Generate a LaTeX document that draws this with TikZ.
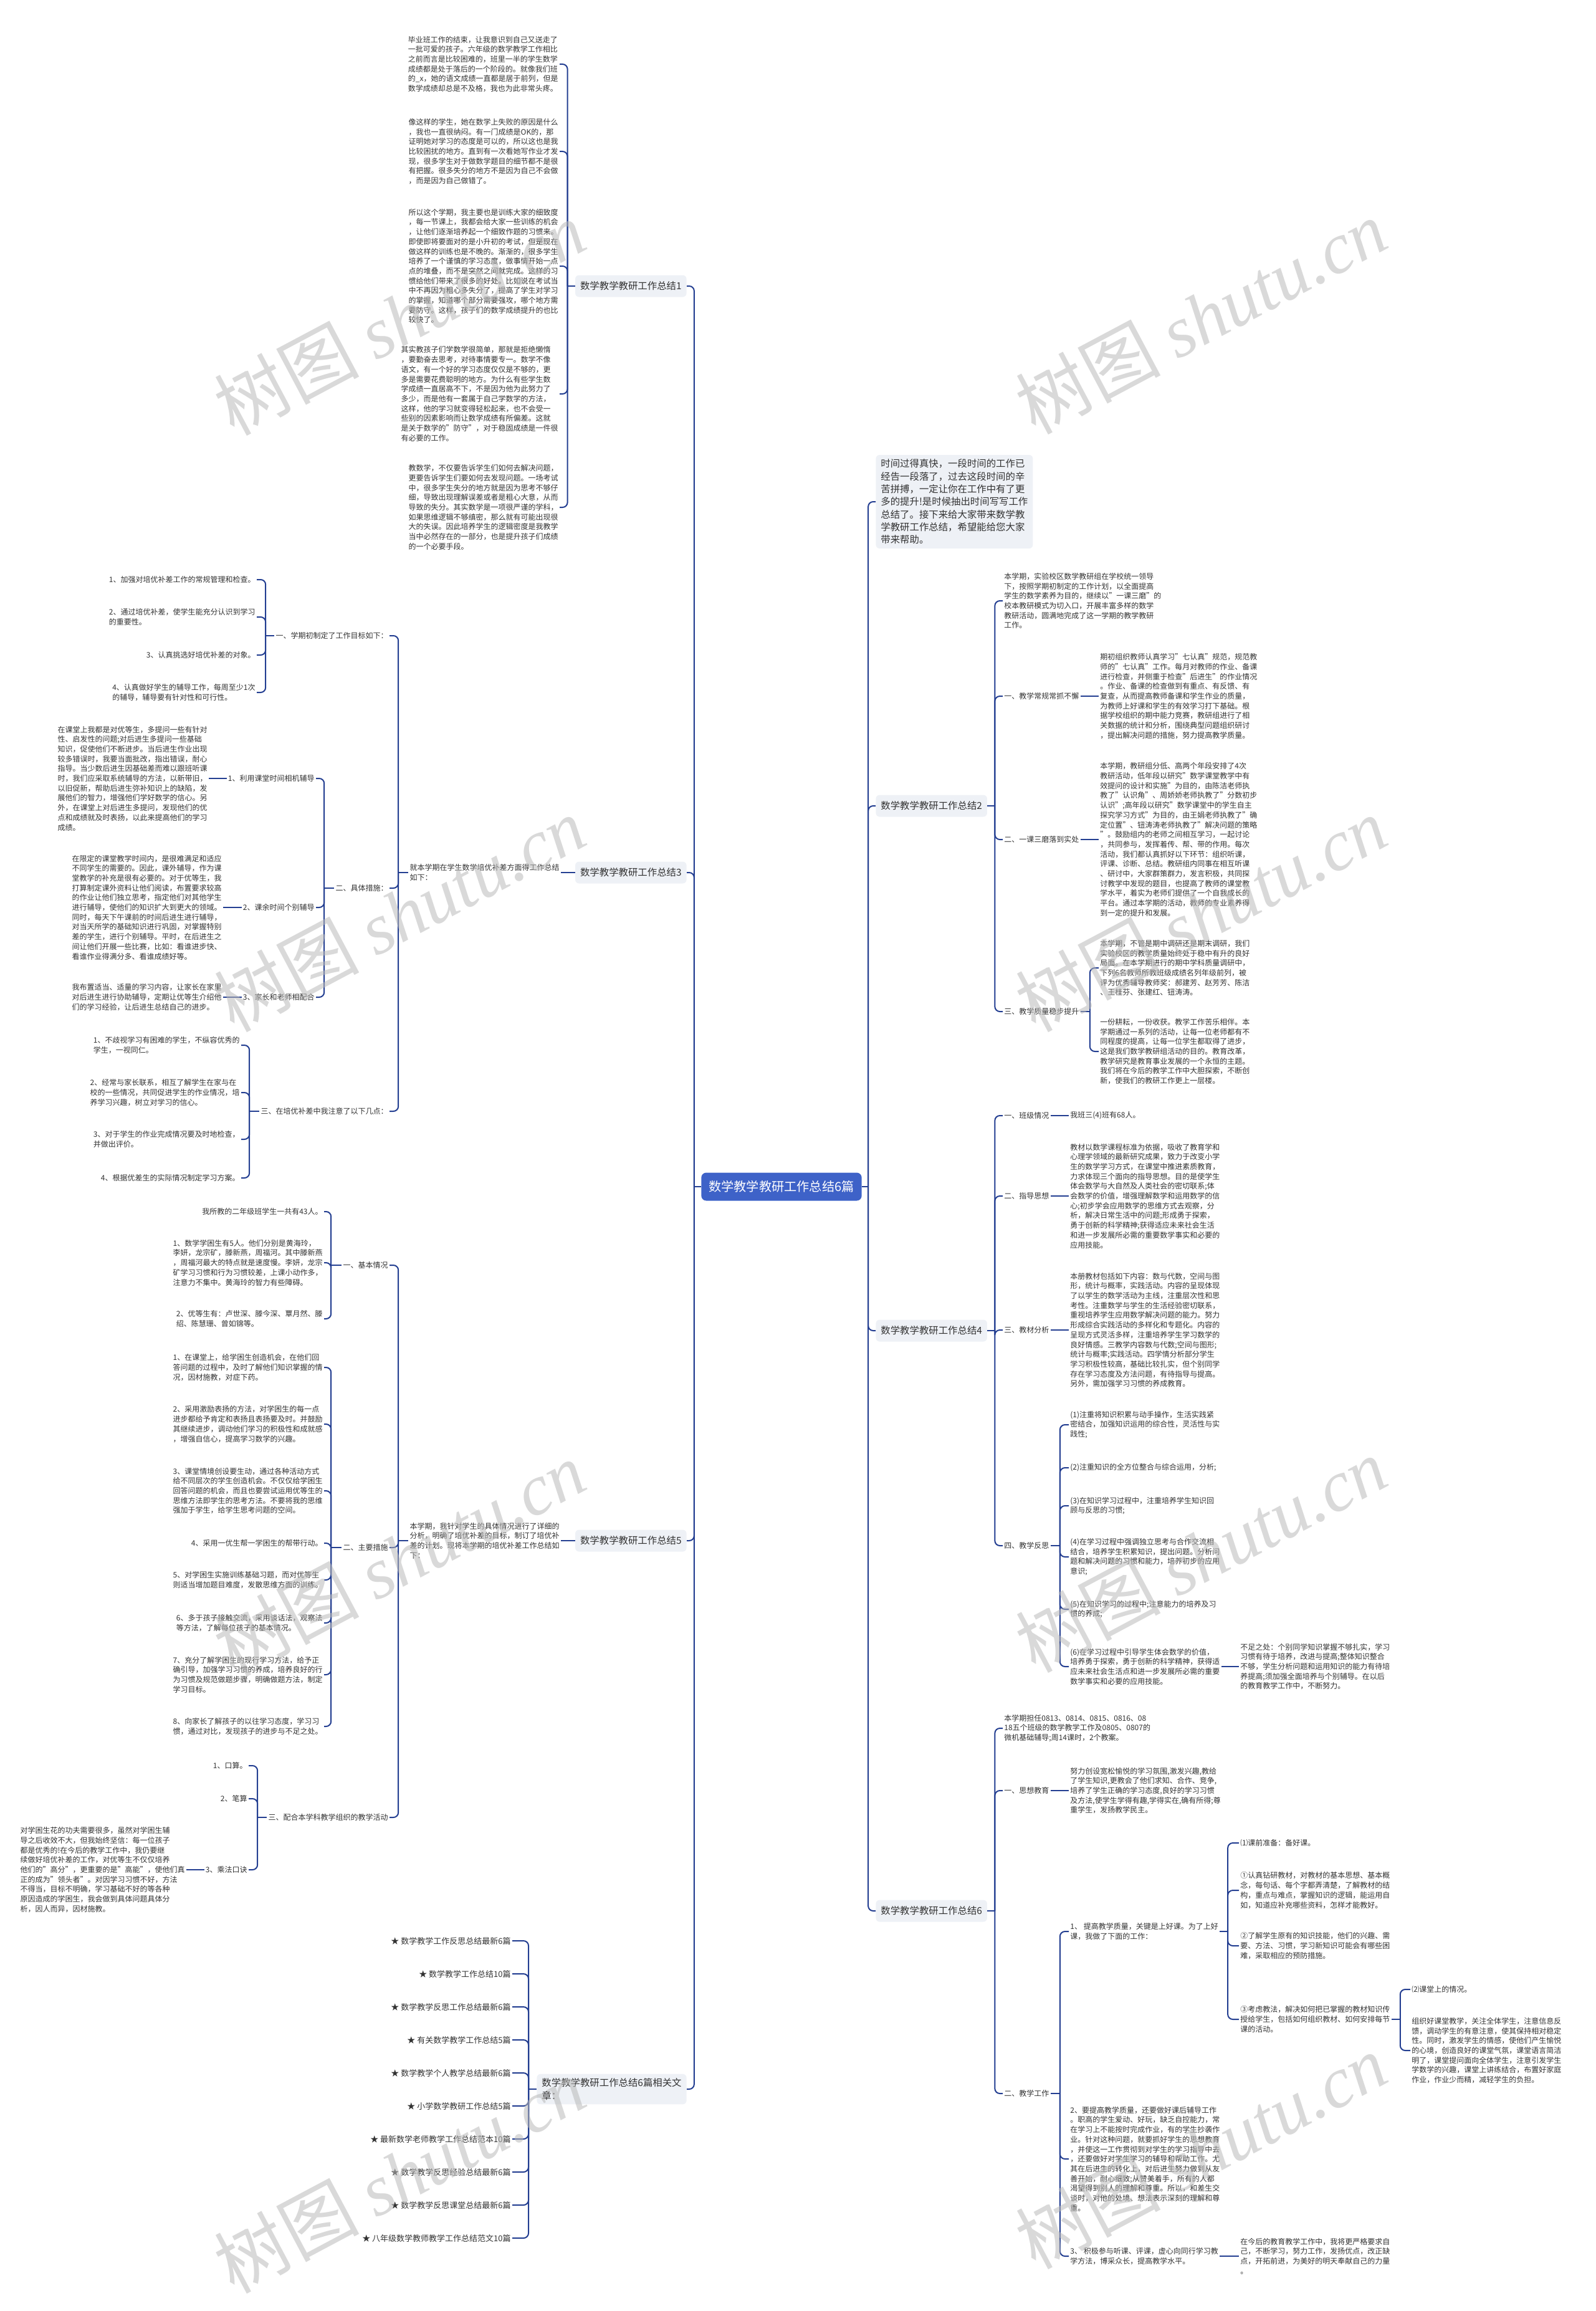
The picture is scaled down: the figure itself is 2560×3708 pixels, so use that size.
\documentclass[tikz,border=0pt]{standalone}
\usepackage{fontspec}
\setmainfont{Noto Sans CJK SC}
\newfontfamily\wmlatin{Liberation Serif}
\usepackage{xcolor}
\usepackage{tikz}
\usetikzlibrary{calc}
\definecolor{mmline}{RGB}{35,62,145}
\definecolor{mmroot}{RGB}{62,98,200}
\definecolor{mmtopic}{RGB}{238,241,246}
\definecolor{mmtext}{RGB}{50,50,50}
\definecolor{mmwm}{RGB}{185,185,185}
\tikzset{
  link/.style={draw=mmline, line width=1pt, rounded corners=4pt},
  rootbox/.style={
    fill=mmroot, text=white, rounded corners=4pt,
    font=\fontsize{10.1pt}{12pt}\selectfont, inner xsep=6pt, minimum height=22.5pt
  },
  topic/.style={
    fill=mmtopic, text=mmtext, rounded corners=3pt, align=left,
    font=\fontsize{7.7pt}{10.15pt}\selectfont,
    inner xsep=4pt, inner ysep=3.5pt, minimum height=17.5pt
  },
  leaf/.style={text=mmtext, font=\fontsize{6pt}{7.85pt}\selectfont, align=left, inner sep=1pt},
  lleaf/.style={leaf, anchor=east},
  rleaf/.style={leaf, anchor=west},
  starleaf/.style={font=\fontsize{6.5pt}{8pt}\selectfont},
  wm/.style={text=mmwm, opacity=0.55, font=\fontsize{58pt}{60pt}\selectfont, rotate=28}
}

\begin{document}
\begin{tikzpicture}[x=0.5pt,y=-0.5pt]
  \useasboundingbox (0,0) rectangle (2560,3708);

  % root and main topics
  \node[rootbox] (root) at (1254,1904) {数学教学教研工作总结6篇};
  \node[topic, anchor=east] (sum1) at (1102,459) {数学教学教研工作总结1};
  \node[topic, anchor=east] (sum3) at (1102,1400) {数学教学教研工作总结3};
  \node[topic, anchor=east] (sum5) at (1102,2472) {数学教学教研工作总结5};
  \node[topic, anchor=east] (related) at (1102,3352) {数学教学教研工作总结6篇相关文\\章：};
  \node[topic, anchor=west] (intro) at (1405,805) {时间过得真快，一段时间的工作已\\经告一段落了，过去这段时间的辛\\苦拼搏，一定让你在工作中有了更\\多的提升!是时候抽出时间写写工作\\总结了。接下来给大家带来数学教\\学教研工作总结，希望能给您大家\\带来帮助。};
  \node[topic, anchor=west] (sum2) at (1405,1293) {数学教学教研工作总结2};
  \node[topic, anchor=west] (sum4) at (1405,2135) {数学教学教研工作总结4};
  \node[topic, anchor=west] (sum6) at (1405,3066) {数学教学教研工作总结6};

  \draw[link] (root.west) -- ++(-11,0) coordinate (rootL);
  \foreach \n in {sum1,sum3,sum5,related} \draw[link] (rootL) |- (\n.east);
  \draw[link] (root.east) -- ++(10,0) coordinate (rootR);
  \foreach \n in {intro,sum2,sum4,sum6} \draw[link] (rootR) |- (\n.west);

  % summary 1
  \node[lleaf] (s1p1) at (898,103) {毕业班工作的结束，让我意识到自己又送走了\\一批可爱的孩子。六年级的数学教学工作相比\\之前而言是比较困难的，班里一半的学生数学\\成绩都是处于落后的一个阶段的。就像我们班\\的\_x，她的语文成绩一直都是居于前列，但是\\数学成绩却总是不及格，我也为此非常头疼。};
  \node[lleaf] (s1p2) at (898,243) {像这样的学生，她在数学上失败的原因是什么\\，我也一直很纳闷。有一门成绩是OK的，那\\证明她对学习的态度是可以的，所以这也是我\\比较困扰的地方。直到有一次看她写作业才发\\现，很多学生对于做数学题目的细节都不是很\\有把握。很多失分的地方不是因为自己不会做\\，而是因为自己做错了。};
  \node[lleaf] (s1p3) at (898,427) {所以这个学期，我主要也是训练大家的细致度\\，每一节课上，我都会给大家一些训练的机会\\，让他们逐渐培养起一个细致作题的习惯来。\\即使即将要面对的是小升初的考试，但是现在\\做这样的训练也是不晚的。渐渐的，很多学生\\培养了一个谨慎的学习态度，做事情开始一点\\点的堆叠，而不是突然之间就完成。这样的习\\惯给他们带来了很多的好处。比如说在考试当\\中不再因为粗心多失分了，提高了学生对学习\\的掌握，知道哪个部分需要强攻，哪个地方需\\要防守。这样，孩子们的数学成绩提升的也比\\较快了。};
  \node[lleaf] (s1p4) at (898,632) {其实教孩子们学数学很简单，那就是拒绝懒惰\\，要勤奋去思考，对待事情要专一。数学不像\\语文，有一个好的学习态度仅仅是不够的，更\\多是需要花费聪明的地方。为什么有些学生数\\学成绩一直居高不下，不是因为他为此努力了\\多少，而是他有一套属于自己学数学的方法，\\这样，他的学习就变得轻松起来，也不会受一\\些别的因素影响而让数学成绩有所偏差。这就\\是关于数学的"防守"，对于稳固成绩是一件很\\有必要的工作。};
  \node[lleaf] (s1p5) at (898,814) {教数学，不仅要告诉学生们如何去解决问题，\\更要告诉学生们要如何去发现问题。一场考试\\中，很多学生失分的地方就是因为思考不够仔\\细，导致出现理解误差或者是粗心大意，从而\\导致的失分。其实数学是一项很严谨的学科，\\如果思维逻辑不够缜密，那么就有可能出现很\\大的失误。因此培养学生的逻辑密度是我教学\\当中必然存在的一部分，也是提升孩子们成绩\\的一个必要手段。};
  \draw[link] (sum1.west) -- ++(-12,0) coordinate (sum1j);
  \foreach \n in {s1p1,s1p2,s1p3,s1p4,s1p5} \draw[link] (sum1j) |- (\n.east);

  % summary 3
  \node[lleaf] (s3i) at (900,1400) {就本学期在学生数学培优补差方面得工作总结\\如下：};
  \draw[link] (sum3.west) -- (s3i.east);
  \node[lleaf] (s3a) at (625,1020) {一、学期初制定了工作目标如下：};
  \node[lleaf] (s3b) at (625,1425) {二、具体措施：};
  \node[lleaf] (s3c) at (625,1783) {三、在培优补差中我注意了以下几点：};
  \draw[link] (s3i.west) -- ++(-16,0) coordinate (s3ij);
  \foreach \n in {s3a,s3b,s3c} \draw[link] (s3ij) |- (\n.east);

  \node[lleaf] (s3a1) at (412,930) {1、加强对培优补差工作的常规管理和检查。};
  \node[lleaf] (s3a2) at (412,990) {2、通过培优补差，使学生能充分认识到学习\\的重要性。};
  \node[lleaf] (s3a3) at (412,1051) {3、认真挑选好培优补差的对象。};
  \node[lleaf] (s3a4) at (412,1111) {4、认真做好学生的辅导工作，每周至少1次\\的辅导，辅导要有针对性和可行性。};
  \draw[link] (s3a.west) -- ++(-14,0) coordinate (s3aj);
  \foreach \n in {s3a1,s3a2,s3a3,s3a4} \draw[link] (s3aj) |- (\n.east);

  \node[lleaf] (s3b1) at (507,1249) {1、利用课堂时间相机辅导};
  \node[lleaf] (s3b2) at (507,1456) {2、课余时间个别辅导};
  \node[lleaf] (s3b3) at (507,1600) {3、家长和老师相配合};
  \draw[link] (s3b.west) -- ++(-16,0) coordinate (s3bj);
  \foreach \n in {s3b1,s3b2,s3b3} \draw[link] (s3bj) |- (\n.east);
  \node[lleaf] (s3b1t) at (335,1249) {在课堂上我都是对优等生，多提问一些有针对\\性、启发性的问题;对后进生多提问一些基础\\知识，促使他们不断进步。当后进生作业出现\\较多错误时，我要当面批改，指出错误，耐心\\指导。当少数后进生因基础差而难以跟班听课\\时，我们应采取系统辅导的方法，以新带旧，\\以旧促新，帮助后进生弥补知识上的缺陷，发\\展他们的智力，增强他们学好数学的信心。另\\外，在课堂上对后进生多提问，发现他们的优\\点和成绩就及时表扬，以此来提高他们的学习\\成绩。};
  \node[lleaf] (s3b2t) at (358,1456) {在限定的课堂教学时间内，是很难满足和适应\\不同学生的需要的。因此，课外辅导，作为课\\堂教学的补充是很有必要的。对于优等生，我\\打算制定课外资料让他们阅读，布置要求较高\\的作业让他们独立思考，指定他们对其他学生\\进行辅导，使他们的知识扩大到更大的领域。\\同时，每天下午课前的时间后进生进行辅导，\\对当天所学的基础知识进行巩固，对掌握特别\\差的学生，进行个别辅导。平时，在后进生之\\间让他们开展一些比赛，比如：看谁进步快、\\看谁作业得满分多、看谁成绩好等。};
  \node[lleaf] (s3b3t) at (358,1600) {我布置适当、适量的学习内容，让家长在家里\\对后进生进行协助辅导，定期让优等生介绍他\\们的学习经验，让后进生总结自己的进步。};
  \draw[link] (s3b1.west) -- (s3b1t.east);
  \draw[link] (s3b2.west) -- (s3b2t.east);
  \draw[link] (s3b3.west) -- (s3b3t.east);

  \node[lleaf] (s3c1) at (387,1677) {1、不歧视学习有困难的学生，不纵容优秀的\\学生，一视同仁。};
  \node[lleaf] (s3c2) at (387,1753) {2、经常与家长联系，相互了解学生在家与在\\校的一些情况，共同促进学生的作业情况，培\\养学习兴趣，树立对学习的信心。};
  \node[lleaf] (s3c3) at (387,1828) {3、对于学生的作业完成情况要及时地检查，\\并做出评价。};
  \node[lleaf] (s3c4) at (387,1890) {4、根据优差生的实际情况制定学习方案。};
  \draw[link] (s3c.west) -- ++(-16,0) coordinate (s3cj);
  \foreach \n in {s3c1,s3c2,s3c3,s3c4} \draw[link] (s3cj) |- (\n.east);

  % summary 5
  \node[lleaf] (s5i) at (900,2472) {本学期，我针对学生的具体情况进行了详细的\\分析，明确了培优补差的目标，制订了培优补\\差的计划。现将本学期的培优补差工作总结如\\下：};
  \draw[link] (sum5.west) -- (s5i.east);
  \node[lleaf] (s5a) at (625,2030) {一、基本情况};
  \node[lleaf] (s5b) at (625,2483) {二、主要措施};
  \node[lleaf] (s5c) at (625,2916) {三、配合本学科教学组织的教学活动};
  \draw[link] (s5i.west) -- ++(-16,0) coordinate (s5ij);
  \foreach \n in {s5a,s5b,s5c} \draw[link] (s5ij) |- (\n.east);

  \node[lleaf] (s5a1) at (520,1944) {我所教的二年级班学生一共有43人。};
  \node[lleaf] (s5a2) at (520,2026) {1、数学学困生有5人。他们分别是黄海玲，\\李妍，龙宗矿，滕新燕，周福河。其中滕新燕\\，周福河最大的特点就是速度慢。李妍，龙宗\\矿学习习惯和行为习惯较差，上课小动作多，\\注意力不集中。黄海玲的智力有些障碍。};
  \node[lleaf] (s5a3) at (520,2116) {2、优等生有：卢世深、滕今深、覃月然、滕\\绍、陈慧珊、曾如锦等。};
  \draw[link] (s5a.west) -- ++(-17,0) coordinate (s5aj);
  \foreach \n in {s5a1,s5a2,s5a3} \draw[link] (s5aj) |- (\n.east);

  \node[lleaf] (s5b1) at (520,2194) {1、在课堂上，给学困生创造机会，在他们回\\答问题的过程中，及时了解他们知识掌握的情\\况，因材施教，对症下药。};
  \node[lleaf] (s5b2) at (520,2285) {2、采用激励表扬的方法，对学困生的每一点\\进步都给予肯定和表扬且表扬要及时。并鼓励\\其继续进步，调动他们学习的积极性和成就感\\，增强自信心，提高学习数学的兴趣。};
  \node[lleaf] (s5b3) at (520,2392) {3、课堂情境创设要生动，通过各种活动方式\\给不同层次的学生创造机会。不仅仅给学困生\\回答问题的机会，而且也要尝试运用优等生的\\思维方法即学生的思考方法。不要将我的思维\\强加于学生，给学生思考问题的空间。};
  \node[lleaf] (s5b4) at (520,2476) {4、采用一优生帮一学困生的帮带行动。};
  \node[lleaf] (s5b5) at (520,2535) {5、对学困生实施训练基础习题，而对优等生\\则适当增加题目难度，发散思维方面的训练。};
  \node[lleaf] (s5b6) at (520,2604) {6、多于孩子接触交流，采用谈话法，观察法\\等方法，了解每位孩子的基本情况。};
  \node[lleaf] (s5b7) at (520,2687) {7、充分了解学困生的现行学习方法，给予正\\确引导，加强学习习惯的养成，培养良好的行\\为习惯及规范做题步骤，明确做题方法，制定\\学习目标。};
  \node[lleaf] (s5b8) at (520,2770) {8、向家长了解孩子的以往学习态度，学习习\\惯，通过对比，发现孩子的进步与不足之处。};
  \draw[link] (s5b.west) -- ++(-17,0) coordinate (s5bj);
  \foreach \n in {s5b1,s5b2,s5b3,s5b4,s5b5,s5b6,s5b7,s5b8} \draw[link] (s5bj) |- (\n.east);

  \node[lleaf] (s5c1) at (399,2833) {1、口算。};
  \node[lleaf] (s5c2) at (399,2886) {2、笔算};
  \node[lleaf] (s5c3) at (399,3000) {3、乘法口诀};
  \draw[link] (s5c.west) -- ++(-15,0) coordinate (s5cj);
  \foreach \n in {s5c1,s5c2,s5c3} \draw[link] (s5cj) |- (\n.east);
  \node[lleaf] (s5c3t) at (299,3000) {对学困生花的功夫需要很多，虽然对学困生辅\\导之后收效不大，但我始终坚信：每一位孩子\\都是优秀的!在今后的教学工作中，我仍要继\\续做好培优补差的工作，对优等生不仅仅培养\\他们的"高分"，更重要的是"高能"，使他们真\\正的成为"领头者"。对因学习习惯不好，方法\\不得当，目标不明确，学习基础不好的等各种\\原因造成的学困生，我会做到具体问题具体分\\析，因人而异，因材施教。};
  \draw[link] (s5c3.west) -- (s5c3t.east);

  % related articles
  \foreach \t [count=\i from 0] in {数学教学工作反思总结最新6篇, 数学教学工作总结10篇, 数学教学反思工作总结最新6篇, 有关数学教学工作总结5篇, 数学教学个人教学总结最新6篇, 小学数学教研工作总结5篇, 最新数学老师教学工作总结范本10篇, 数学教学反思经验总结最新6篇, 数学教学反思课堂总结最新6篇, 八年级数学教师教学工作总结范文10篇}
    \node[lleaf, starleaf] (rel\i) at (822,{3114+53*\i}) {★ \t};
  \draw[link] (related.west) -- ++(-13,0) coordinate (relj);
  \foreach \i in {0,...,9} \draw[link] (relj) |- (rel\i.east);

  % summary 2
  \node[rleaf] (s2p) at (1609,964) {本学期，实验校区数学教研组在学校统一领导\\下，按照学期初制定的工作计划，以全面提高\\学生的数学素养为目的，继续以"一课三磨"的\\校本教研模式为切入口，开展丰富多样的数学\\教研活动，圆满地完成了这一学期的教学教研\\工作。};
  \node[rleaf] (s2a) at (1609,1117) {一、教学常规常抓不懈};
  \node[rleaf] (s2b) at (1609,1347) {二、一课三磨落到实处};
  \node[rleaf] (s2c) at (1609,1623) {三、教学质量稳步提升};
  \draw[link] (sum2.east) -- ++(12,0) coordinate (sum2j);
  \foreach \n in {s2p,s2a,s2b,s2c} \draw[link] (sum2j) |- (\n.west);
  \node[rleaf] (s2at) at (1763,1117) {期初组织教师认真学习"七认真"规范，规范教\\师的"七认真"工作。每月对教师的作业、备课\\进行检查，并侧重于检查"后进生"的作业情况\\。作业、备课的检查做到有重点、有反馈、有\\复查，从而提高教师备课和学生作业的质量，\\为教师上好课和学生的有效学习打下基础。根\\据学校组织的期中能力竞赛，教研组进行了相\\关数据的统计和分析，围绕典型问题组织研讨\\，提出解决问题的措施，努力提高教学质量。};
  \node[rleaf] (s2bt) at (1763,1347) {本学期，教研组分低、高两个年段安排了4次\\教研活动，低年段以研究"数学课堂教学中有\\效提问的设计和实施"为目的，由陈洁老师执\\教了"认识角"、周娇娇老师执教了"分数初步\\认识";高年段以研究"数学课堂中的学生自主\\探究学习方式"为目的，由王娟老师执教了"确\\定位置"、钮涛涛老师执教了"解决问题的策略\\"。鼓励组内的老师之间相互学习，一起讨论\\，共同参与，发挥着传、帮、带的作用。每次\\活动，我们都认真抓好以下环节：组织听课，\\评课、诊断、总结。教研组内同事在相互听课\\、研讨中，大家群策群力，发言积极，共同探\\讨教学中发现的题目，也提高了教师的课堂教\\学水平，着实为老师们提供了一个自我成长的\\平台。通过本学期的活动，教师的专业素养得\\到一定的提升和发展。};
  \draw[link] (s2a.east) -- (s2at.west);
  \draw[link] (s2b.east) -- (s2bt.west);
  \node[rleaf] (s2c1) at (1763,1553) {本学期，不管是期中调研还是期末调研，我们\\实验校区的教学质量始终处于稳中有升的良好\\局面。在本学期进行的期中学科质量调研中，\\下列6名教师所教班级成绩名列年级前列，被\\评为优秀辅导教师奖：郝建芳、赵芳芳、陈洁\\、王桂芬、张建红、钮涛涛。};
  \node[rleaf] (s2c2) at (1763,1687) {一份耕耘，一份收获。教学工作苦乐相伴。本\\学期通过一系列的活动，让每一位老师都有不\\同程度的提高，让每一位学生都取得了进步，\\这是我们数学教研组活动的目的。教育改革，\\教学研究是教育事业发展的一个永恒的主题。\\我们将在今后的教学工作中大胆探索，不断创\\新，使我们的教研工作更上一层楼。};
  \draw[link] (s2c.east) -- ++(15,0) coordinate (s2cj);
  \foreach \n in {s2c1,s2c2} \draw[link] (s2cj) |- (\n.west);

  % summary 4
  \node[rleaf] (s4a) at (1609,1790) {一、班级情况};
  \node[rleaf] (s4b) at (1609,1919) {二、指导思想};
  \node[rleaf] (s4c) at (1609,2134) {三、教材分析};
  \node[rleaf] (s4d) at (1609,2480) {四、教学反思};
  \draw[link] (sum4.east) -- ++(12,0) coordinate (sum4j);
  \foreach \n in {s4a,s4b,s4c,s4d} \draw[link] (sum4j) |- (\n.west);
  \node[rleaf] (s4at) at (1715,1790) {我班三(4)班有68人。};
  \node[rleaf] (s4bt) at (1715,1919) {教材以数学课程标准为依据，吸收了教育学和\\心理学领域的最新研究成果，致力于改变小学\\生的数学学习方式，在课堂中推进素质教育，\\力求体现三个面向的指导思想。目的是使学生\\体会数学与大自然及人类社会的密切联系;体\\会数学的价值，增强理解数学和运用数学的信\\心;初步学会应用数学的思维方式去观察，分\\析，解决日常生活中的问题;形成勇于探索，\\勇于创新的科学精神;获得适应未来社会生活\\和进一步发展所必需的重要数学事实和必要的\\应用技能。};
  \node[rleaf] (s4ct) at (1715,2134) {本册教材包括如下内容：数与代数，空间与图\\形，统计与概率，实践活动。内容的呈现体现\\了以学生的数学活动为主线，注重层次性和思\\考性。注重数学与学生的生活经验密切联系，\\重视培养学生应用数学解决问题的能力。努力\\形成综合实践活动的多样化和专题化。内容的\\呈现方式灵活多样，注重培养学生学习数学的\\良好情感。三教学内容数与代数;空间与图形;\\统计与概率;实践活动。四学情分析部分学生\\学习积极性较高，基础比较扎实，但个别同学\\存在学习态度及方法问题，有待指导与提高。\\另外，需加强学习习惯的养成教育。};
  \draw[link] (s4a.east) -- (s4at.west);
  \draw[link] (s4b.east) -- (s4bt.west);
  \draw[link] (s4c.east) -- (s4ct.west);
  \node[rleaf] (s4d1) at (1715,2286) {(1)注重将知识积累与动手操作，生活实践紧\\密结合，加强知识运用的综合性，灵活性与实\\践性;};
  \node[rleaf] (s4d2) at (1715,2355) {(2)注重知识的全方位整合与综合运用，分析;};
  \node[rleaf] (s4d3) at (1715,2416) {(3)在知识学习过程中，注重培养学生知识回\\顾与反思的习惯;};
  \node[rleaf] (s4d4) at (1715,2498) {(4)在学习过程中强调独立思考与合作交流相\\结合，培养学生积累知识，提出问题。分析问\\题和解决问题的习惯和能力，培养初步的应用\\意识;};
  \node[rleaf] (s4d5) at (1715,2582) {(5)在知识学习的过程中;注意能力的培养及习\\惯的养成;};
  \node[rleaf] (s4d6) at (1715,2674) {(6)在学习过程中引导学生体会数学的价值，\\培养勇于探索，勇于创新的科学精神，获得适\\应未来社会生活点和进一步发展所必需的重要\\数学事实和必要的应用技能。};
  \draw[link] (s4d.east) -- ++(15,0) coordinate (s4dj);
  \foreach \n in {s4d1,s4d2,s4d3,s4d4,s4d5,s4d6} \draw[link] (s4dj) |- (\n.west);
  \node[rleaf] (s4d6t) at (1988,2674) {不足之处：个别同学知识掌握不够扎实，学习\\习惯有待于培养，改进与提高;整体知识整合\\不够，学生分析问题和运用知识的能力有待培\\养提高;须加强全面培养与个别辅导。在以后\\的教育教学工作中，不断努力。};
  \draw[link] (s4d6.east) -- (s4d6t.west);

  % summary 6
  \node[rleaf] (s6p) at (1609,2773) {本学期担任0813、0814、0815、0816、08\\18五个班级的数学教学工作及0805、0807的\\微机基础辅导;周14课时，2个教案。};
  \node[rleaf] (s6a) at (1609,2873) {一、思想教育};
  \node[rleaf] (s6b) at (1609,3359) {二、教学工作};
  \draw[link] (sum6.east) -- ++(12,0) coordinate (sum6j);
  \foreach \n in {s6p,s6a,s6b} \draw[link] (sum6j) |- (\n.west);
  \node[rleaf] (s6at) at (1715,2873) {努力创设宽松愉悦的学习氛围,激发兴趣,教给\\了学生知识,更教会了他们求知、合作、竞争,\\培养了学生正确的学习态度,良好的学习习惯\\及方法,使学生学得有趣,学得实在,确有所得;尊\\重学生，发扬教学民主。};
  \draw[link] (s6a.east) -- (s6at.west);

  \node[rleaf] (s6b1) at (1715,3099) {1、 提高教学质量，关键是上好课。为了上好\\课，我做了下面的工作：};
  \node[rleaf] (s6b2) at (1715,3464) {2、要提高教学质量，还要做好课后辅导工作\\。职高的学生爱动、好玩，缺乏自控能力，常\\在学习上不能按时完成作业，有的学生抄袭作\\业。针对这种问题，就要抓好学生的思想教育\\，并使这一工作贯彻到对学生的学习指导中去\\，还要做好对学生学习的辅导和帮助工作。尤\\其在后进生的转化上，对后进生努力做到从友\\善开始，耐心细致;从赞美着手，所有的人都\\渴望得到别人的理解和尊重。所以，和差生交\\谈时，对他的处境、想法表示深刻的理解和尊\\重。};
  \node[rleaf] (s6b3) at (1715,3620) {3、 积极参与听课、评课，虚心向同行学习教\\学方法，博采众长，提高教学水平。};
  \draw[link] (s6b.east) -- ++(15,0) coordinate (s6bj);
  \foreach \n in {s6b1,s6b2,s6b3} \draw[link] (s6bj) |- (\n.west);

  \node[rleaf] (s6b1a) at (1988,2957) {⑴课前准备：备好课。};
  \node[rleaf] (s6b1b) at (1988,3033) {①认真钻研教材，对教材的基本思想、基本概\\念，每句话、每个字都弄清楚，了解教材的结\\构，重点与难点，掌握知识的逻辑，能运用自\\如，知道应补充哪些资料，怎样才能教好。};
  \node[rleaf] (s6b1c) at (1988,3122) {②了解学生原有的知识技能，他们的兴趣、需\\要、方法、习惯，学习新知识可能会有哪些困\\难，采取相应的预防措施。};
  \node[rleaf] (s6b1d) at (1988,3240) {③考虑教法，解决如何把已掌握的教材知识传\\授给学生，包括如何组织教材、如何安排每节\\课的活动。};
  \draw[link] (s6b1.east) -- ++(13,0) coordinate (s6b1j);
  \foreach \n in {s6b1a,s6b1b,s6b1c,s6b1d} \draw[link] (s6b1j) |- (\n.west);
  \node[rleaf] (s6b1d1) at (2263,3192) {⑵课堂上的情况。};
  \node[rleaf] (s6b1d2) at (2263,3290) {组织好课堂教学，关注全体学生，注意信息反\\馈，调动学生的有意注意，使其保持相对稳定\\性。同时，激发学生的情感，使他们产生愉悦\\的心境，创造良好的课堂气氛，课堂语言简洁\\明了，课堂提问面向全体学生，注意引发学生\\学数学的兴趣，课堂上讲练结合，布置好家庭\\作业，作业少而精，减轻学生的负担。};
  \draw[link] (s6b1d.east) -- ++(14,0) coordinate (s6b1dj);
  \foreach \n in {s6b1d1,s6b1d2} \draw[link] (s6b1dj) |- (\n.west);
  \node[rleaf] (s6b3t) at (1988,3620) {在今后的教育教学工作中，我将更严格要求自\\己，不断学习，努力工作，发扬优点，改正缺\\点，开拓前进，为美好的明天奉献自己的力量\\。};
  \draw[link] (s6b3.east) -- (s6b3t.west);

  % watermarks
  \foreach \x/\y [count=\k] in {641/510, 1927/508, 641/1466, 1927/1466, 641/2500, 1927/2494, 641/3490, 1927/3451}
    \node[wm] (wm\k) at (\x,\y) {树图 {\wmlatin\itshape shutu.cn}};
\end{tikzpicture}
\end{document}
